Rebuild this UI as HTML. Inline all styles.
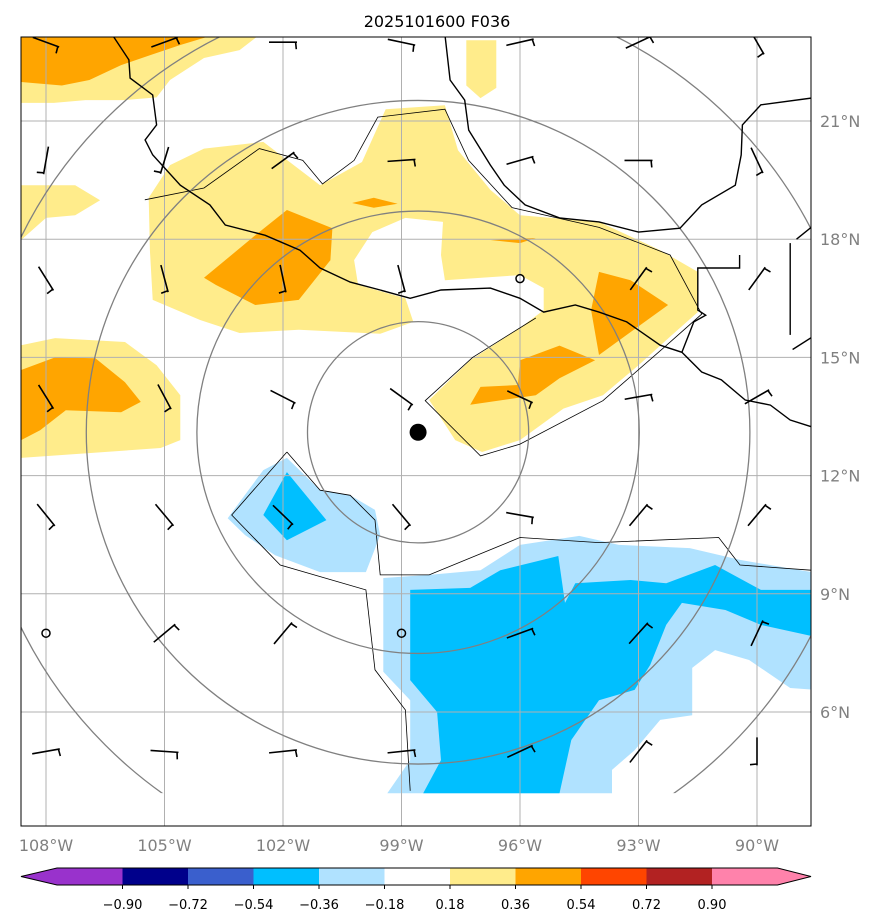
<!DOCTYPE html>
<html><head><meta charset="utf-8"><style>
html,body{margin:0;padding:0;background:#fff;}
svg{display:block;font-family:"DejaVu Sans","Liberation Sans",sans-serif;}
</style></head><body>
<svg id="chart" width="882" height="924" viewBox="0 0 882 924" xmlns="http://www.w3.org/2000/svg">
<text x="437" y="27" font-size="16" text-anchor="middle">2025101600 F036</text>
<defs><clipPath id="mapclip"><rect x="21" y="37" width="790" height="789"/></clipPath></defs>
<g id="map" clip-path="url(#mapclip)"></g>
<rect x="21" y="37" width="790" height="789" fill="none" stroke="#000" stroke-width="1"/>
<g id="axes"></g>
<g id="cbar"></g>
</svg>
<script>
// ---- data ----
const lonTicks = [-108,-105,-102,-99,-96,-93,-90];
const lonLabels = ["108°W","105°W","102°W","99°W","96°W","93°W","90°W"];
const latTicks = [6,9,12,15,18,21];
const latLabels = ["6°N","9°N","12°N","15°N","18°N","21°N"];
const cbarLevels = ["−0.90","−0.72","−0.54","−0.36","−0.18","0.18","0.36","0.54","0.72","0.90"];
const cbarColors = ["#9932cc","#00008b","#3a5fcd","#00bfff","#b0e2ff","#ffffff","#ffec8b","#ffa500","#ff4500","#b22222","#ff82ab"];

const yellowA = [[-105.4,19.05],[-104.86,19.88],[-104.0,20.3],[-102.5,20.47],[-101.06,19.37],[-100.0,19.96],[-99.4,21.3],[-97.9,21.4],[-97.57,20.26],[-96.75,19.25],[-96.0,18.61],[-94.0,18.44],[-92.45,17.72],[-91.5,17.17],[-91.5,16.15],[-92.15,15.57],[-93.0,14.8],[-93.9,14.04],[-94.9,13.7],[-96.0,12.9],[-96.96,12.6],[-97.64,12.9],[-98.3,13.92],[-97.26,14.93],[-96.0,15.75],[-95.4,16.2],[-95.4,16.76],[-96.0,17.09],[-97.9,16.96],[-98.0,17.6],[-97.95,18.44],[-98.9,18.54],[-99.74,18.18],[-100.2,17.47],[-100.1,16.84],[-98.9,16.5],[-98.7,15.9],[-99.54,15.6],[-101.6,15.7],[-103.1,15.62],[-104.1,15.95],[-105.3,16.46],[-105.37,17.72]];
const yellowNW = [[-108.63,23.2],[-102.58,23.2],[-103.1,22.8],[-104.0,22.6],[-104.86,22.04],[-105.2,21.6],[-106.0,21.53],[-107.0,21.53],[-107.8,21.46],[-108.63,21.46]];
const yellowN = [[-97.36,23.05],[-96.6,23.05],[-96.6,21.84],[-97.0,21.58],[-97.36,21.9]];
const yellowW = [[-108.63,19.37],[-107.26,19.37],[-106.63,18.99],[-107.26,18.61],[-108.0,18.54],[-108.63,17.98]];
const yellowSW = [[-108.63,15.31],[-107.77,15.49],[-106.0,15.39],[-105.2,14.8],[-104.6,14.04],[-104.6,12.9],[-105.1,12.7],[-108.63,12.45]];
const orange1 = [[-104.0,17.02],[-102.7,18.1],[-101.9,18.74],[-100.75,18.28],[-100.8,17.47],[-101.6,16.46],[-102.7,16.33],[-103.7,16.84]];
const orange2 = [[-100.25,18.92],[-99.7,19.05],[-99.1,18.9],[-99.7,18.8]];
const orange3 = [[-94.0,17.17],[-93.2,16.96],[-92.25,16.33],[-93.3,15.57],[-94.0,15.06],[-94.2,16.2]];
const orange4 = [[-96.0,14.93],[-95.0,15.3],[-94.1,14.93],[-95.0,14.47],[-95.6,14.04],[-97.26,13.8],[-97.0,14.25],[-96.05,14.3]];
const orange5 = [[-96.75,17.98],[-95.6,18.03],[-96.0,17.9]];
const orangeNW = [[-108.63,23.2],[-103.7,23.2],[-104.6,22.93],[-105.37,22.67],[-106.1,22.42],[-106.9,22.04],[-107.6,21.9],[-108.63,21.99]];
const orangeSW = [[-108.63,14.68],[-107.77,15.0],[-106.75,14.98],[-106.0,14.37],[-105.6,13.87],[-106.1,13.61],[-107.5,13.66],[-108.15,13.15],[-108.63,12.9]];
const lblue1 = [[-103.4,10.92],[-102.5,12.14],[-101.9,12.45],[-101.06,11.63],[-100.3,11.5],[-99.67,11.13],[-99.54,10.49],[-99.9,9.55],[-101.06,9.55],[-102.2,9.98],[-102.96,10.49]];
const dblue1 = [[-102.5,11.0],[-101.9,12.09],[-100.9,10.87],[-101.9,10.36]];
const lblue2 = [[-99.46,9.4],[-98.3,9.48],[-97.0,9.6],[-96.0,10.24],[-94.5,10.47],[-93.5,10.24],[-91.7,10.16],[-90.43,9.86],[-88.5,9.53],[-88.5,6.56],[-89.16,6.61],[-90.2,7.32],[-91.06,7.57],[-91.64,7.12],[-91.64,5.92],[-92.45,5.8],[-93.1,5.03],[-93.67,4.53],[-93.67,3.94],[-99.36,3.94],[-98.78,4.78],[-98.78,6.3],[-99.46,7.02]];
const dblue2 = [[-98.78,9.1],[-97.26,9.15],[-96.5,9.6],[-95.03,9.96],[-94.86,8.77],[-94.6,9.27],[-93.2,9.35],[-92.3,9.27],[-91.06,9.73],[-89.9,9.1],[-88.5,9.1],[-88.5,7.9],[-89.9,8.21],[-90.8,8.59],[-91.9,8.77],[-92.3,8.21],[-92.7,7.2],[-93.1,6.56],[-94.0,6.3],[-94.7,5.29],[-95.0,3.94],[-98.45,3.94],[-98.0,4.78],[-98.1,6.0],[-98.78,6.81]];

const contour1 = [[-101.9,12.6],[-103.3,11.0],[-102.07,9.73],[-99.9,9.1],[-99.67,7.07],[-98.9,6.05],[-98.78,4.0]];
const contour2 = [[-101.9,12.6],[-101.06,11.63],[-100.3,11.5],[-99.67,10.87],[-99.54,9.48],[-98.3,9.48],[-96.0,10.43],[-94.0,10.3],[-90.97,10.43],[-90.43,9.73],[-88.63,9.6]];
const contour3 = [[-105.5,19.0],[-104.0,19.3],[-102.6,20.3],[-101.5,20.0],[-101.0,19.4],[-100.2,20.0],[-99.6,21.1],[-97.9,21.3],[-97.3,20.0],[-96.2,18.8],[-94.0,18.3],[-92.2,17.6],[-91.4,16.1],[-92.3,15.3],[-93.9,13.9],[-96.0,12.8],[-97.0,12.5],[-98.4,13.9],[-97.2,15.0],[-95.6,16.0]];

const coastPacific = [[-106.33,23.2],[-105.9,22.55],[-105.87,22.09],[-105.3,21.66],[-105.2,20.9],[-105.49,20.52],[-105.3,20.14],[-104.6,19.37],[-103.85,18.87],[-103.46,18.36],[-102.45,18.1],[-101.57,17.72],[-101.06,17.27],[-100.3,16.91],[-99.54,16.71],[-98.78,16.5],[-98.0,16.71],[-96.75,16.76],[-96.0,16.5],[-95.4,16.15],[-94.6,16.33],[-94.0,16.15],[-93.3,15.9],[-92.45,15.31],[-91.9,15.13],[-91.4,14.63],[-90.9,14.43],[-90.3,13.92],[-89.66,13.79],[-89.16,13.41],[-88.5,13.2]];
const coastGulf = [[-97.9,23.2],[-97.77,22.04],[-97.4,21.53],[-97.3,20.77],[-96.75,19.88],[-96.4,19.37],[-95.87,18.87],[-95.0,18.54],[-94.0,18.44],[-93.0,18.18],[-91.95,18.28],[-91.4,18.87],[-90.55,19.37],[-90.4,20.14],[-90.37,20.9],[-89.9,21.41],[-88.5,21.6]];
const borders = [
 [[-91.9,15.13],[-91.6,15.9],[-91.3,16.07],[-91.5,16.2],[-91.5,17.27],[-90.44,17.27],[-90.44,17.6]],
 [[-89.16,17.9],[-89.16,15.57]],
 [[-88.63,18.3],[-89.0,18.0]],
 [[-89.1,15.2],[-88.63,15.5]]
];

const barbLons = [-108,-105,-102,-99,-96,-93,-90];
const barbLats = [23,20,17,14,11,8,5];
// staff orientation (deg, screen) per grid point; null = calm
const barbAngles = [
 [20,-20,0,12,-13,-25,60],
 [100,107,-36,-4,-16,0,65],
 [58,75,78,75,null,-54,-54],
 [58,62,27,36,25,-10,-30],
 [51,50,44,50,10,-50,-50],
 [null,-40,-50,null,-20,-48,-65],
 [-10,4,-6,-6,-25,-52,90]
];
const stormLon = -98.58, stormLat = 13.1;
const ringRadiiDeg = [2.8,5.6,8.4,11.2];

// ---- axes ----
const X = lon => 46 + (lon + 108) * 39.5;
const Y = lat => 121 + (21 - lat) * 39.4;
const NS = "http://www.w3.org/2000/svg";
function mk(tag, attrs, parent){const e=document.createElementNS(NS,tag);for(const k in attrs)e.setAttribute(k,attrs[k]);parent.appendChild(e);return e;}
const map = document.getElementById('map');
const axes = document.getElementById('axes');
const pts = arr => arr.map(p => X(p[0]).toFixed(1)+","+Y(p[1]).toFixed(1)).join(" ");

function poly(arr, fill, name){
  const e = mk('polygon',{points:pts(arr),fill:fill,stroke:'none'},map);
  
  
}
poly(yellowA,'#ffec8b','yellow-region-central');
poly(yellowNW,'#ffec8b','yellow-region-northwest');
poly(yellowN,'#ffec8b','yellow-region-north');
poly(yellowW,'#ffec8b','yellow-region-west');
poly(yellowSW,'#ffec8b','yellow-region-southwest');
poly(orange1,'#ffa500','orange-region-1');
poly(orange2,'#ffa500','orange-region-2');
poly(orange3,'#ffa500','orange-region-3');
poly(orange4,'#ffa500','orange-region-4');
poly(orange5,'#ffa500','orange-region-5');
poly(orangeNW,'#ffa500','orange-region-northwest');
poly(orangeSW,'#ffa500','orange-region-southwest');
poly(lblue1,'#b0e2ff','lightblue-region-west');
poly(dblue1,'#00bfff','blue-region-west');
poly(lblue2,'#b0e2ff','lightblue-region-south');
poly(dblue2,'#00bfff','blue-region-south');

function line(arr, stroke, w, name){
  const e = mk('polyline',{points:pts(arr),fill:'none',stroke:stroke,'stroke-width':w},map);
  
  
}
// grid
lonTicks.forEach(l=>{const e=mk('line',{x1:X(l),x2:X(l),y1:37,y2:826,stroke:'#b0b0b0','stroke-width':1},map);

});
latTicks.forEach(l=>{const e=mk('line',{x1:21,x2:811,y1:Y(l),y2:Y(l),stroke:'#b0b0b0','stroke-width':1},map);

});

line(contour1,'#000',0.8,'contour-line-1');
line(contour2,'#000',0.8,'contour-line-2');
line(contour3,'#000',0.8,'contour-line-3');

// distance rings
ringRadiiDeg.forEach(r=>{
  const c = mk('circle',{cx:X(stormLon),cy:Y(stormLat),r:r*39.5,fill:'none',stroke:'#808080','stroke-width':1.3,'clip-path':'url(#ringclip)'},map);
  
  
});
const defs = document.querySelector('defs');
const rc = mk('clipPath',{id:'ringclip'},defs);
mk('rect',{x:0,y:0,width:882,height:Y(3.94)},rc);

line(coastPacific,'#000',1.4,'pacific-coastline');
line(coastGulf,'#000',1.4,'gulf-coastline');
borders.forEach(b=>line(b,'#000',1.4,'country-border'));

// wind barbs
barbLats.forEach((lat,i)=>{barbLons.forEach((lon,j)=>{
  const a = barbAngles[i][j];
  const cx = X(lon), cy = Y(lat);
  if (a === null) {
    const c = mk('circle',{cx:cx,cy:cy,r:4,fill:'none',stroke:'#000','stroke-width':1.5},map);
    
    
    return;
  }
  const t = a*Math.PI/180, dx=Math.cos(t)*14, dy=Math.sin(t)*14;
  const x1=cx-dx,y1=cy-dy,x2=cx+dx,y2=cy+dy;
  const bx=x2-dx*0.05-Math.sin(t)*7, by=y2-dy*0.05+Math.cos(t)*7;
  const p = mk('path',{d:`M${x1},${y1}L${x2},${y2}M${x2-dx*0.1},${y2-dy*0.1}L${bx},${by}`,fill:'none',stroke:'#000','stroke-width':1.6},map);
  
  
});});

const s = mk('circle',{cx:X(stormLon),cy:Y(stormLat),r:8.5,fill:'#000'},map);



// axis labels
lonTicks.forEach((l,i)=>{
  const t = mk('text',{x:X(l),y:851,'font-size':16,'text-anchor':'middle',fill:'#808080'},axes);
  t.textContent = lonLabels[i];
  
  
});
latTicks.forEach((l,i)=>{
  const t = mk('text',{x:820,y:Y(l)+6,'font-size':16,'text-anchor':'start',fill:'#808080'},axes);
  t.textContent = latLabels[i];
  
  
});

// colorbar
const cb = document.getElementById('cbar');
const cy0 = 868, ch = 17, bx0 = 57, bw = 65.5;
const cbRight = bx0 + bw*(cbarColors.length-2);
mk('polygon',{points:`21,${cy0+ch/2} ${bx0},${cy0} ${bx0},${cy0+ch}`,fill:cbarColors[0]},cb);
for (let k=1;k<cbarColors.length-1;k++){
  const r = mk('rect',{x:bx0+(k-1)*bw,y:cy0,width:bw+0.5,height:ch,fill:cbarColors[k]},cb);
  
  
}
// first purple segment box + last pink box
mk('rect',{x:bx0,y:cy0,width:bw,height:ch,fill:cbarColors[0]},cb);
mk('polygon',{points:`${cbRight},${cy0} 811,${cy0+ch/2} ${cbRight},${cy0+ch}`,fill:cbarColors[cbarColors.length-1]},cb);
// re-lay boxes: purple box occupies first slot, then rest shift
cb.innerHTML='';
mk('polygon',{points:`21,${cy0+ch/2} ${bx0},${cy0} ${bx0},${cy0+ch}`,fill:cbarColors[0]},cb);
for (let k=0;k<cbarColors.length;k++){
  const r = mk('rect',{x:bx0+k*bw,y:cy0,width:bw+0.5,height:ch,fill:cbarColors[k]},cb);
  
  
}
const endX = bx0 + cbarColors.length*bw;
mk('polygon',{points:`${endX-0.5},${cy0} 811,${cy0+ch/2} ${endX-0.5},${cy0+ch}`,fill:cbarColors[cbarColors.length-1]},cb);
mk('polygon',{points:`21,${cy0+ch/2} ${bx0},${cy0} ${endX},${cy0} 811,${cy0+ch/2} ${endX},${cy0+ch} ${bx0},${cy0+ch}`,fill:'none',stroke:'#000','stroke-width':1},cb);
cbarLevels.forEach((lab,k)=>{
  const x = bx0 + (k+1)*bw;
  mk('line',{x1:x,x2:x,y1:cy0+ch,y2:cy0+ch+4,stroke:'#000'},cb);
  const t = mk('text',{x:x,y:909,'font-size':13,'text-anchor':'middle',fill:'#000'},cb);
  t.textContent = lab;
  
  
});
</script>
</body></html>
